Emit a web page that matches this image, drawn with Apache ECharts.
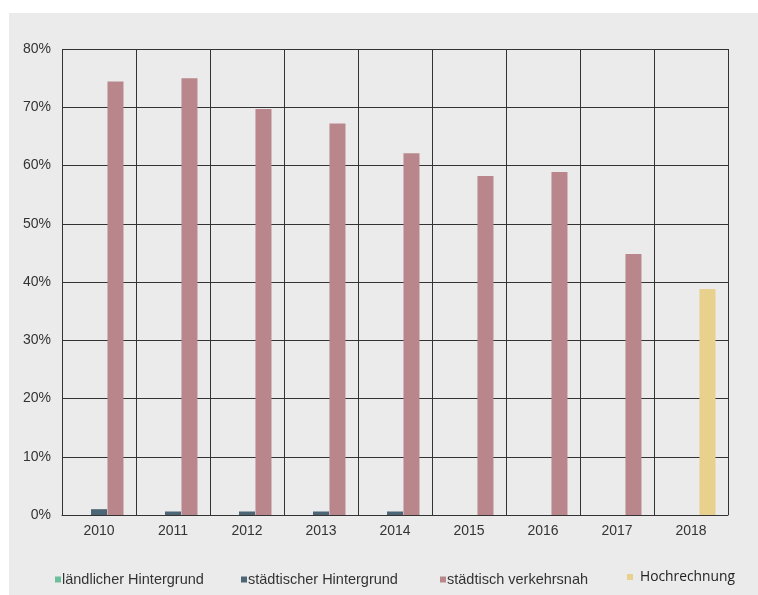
<!DOCTYPE html>
<html><head><meta charset="utf-8">
<script src="https://cdn.jsdelivr.net/npm/echarts@6/dist/echarts.min.js"></script>
<style>html,body{margin:0;padding:0;background:#fff}#c{width:758px;height:595px}</style>
</head><body><div id="c"></div>
<script>
const years = ['2010','2011','2012','2013','2014','2015','2016','2017','2018'];
const laendlich = [null,null,null,null,null,null,null,null,null];
const staedtischHG = [1.0,0.6,0.6,0.6,0.6,null,null,null,null];
const verkehrsnah = [74.4,75.0,69.7,67.2,62.1,58.2,58.9,44.8,null];
const hochrechnung = [null,null,null,null,null,null,null,null,38.8];
const yTicks = [0,10,20,30,40,50,60,70,80];

const chart = echarts.init(document.getElementById('c'), null, {renderer:'canvas'});
const lblFont = {fontFamily:'Liberation Sans', fontSize:14, color:'#333'};
function lg(name, left, font, pad){
  return {data:[name], left:left, top:567, itemWidth:6, itemHeight:6, itemGap:0, icon:'rect',
    textStyle:Object.assign({padding:[0,0,0,pad]}, font), selectedMode:false};
}
const legFont = {fontFamily:'Liberation Sans', fontSize:14.5, color:'#333'};
chart.setOption({
  backgroundColor:'#ffffff',
  graphic:[{type:'rect', z:-10, shape:{x:9,y:13,width:749,height:582}, style:{fill:'#ebebeb'}}],
  animation:false,
  legend:[
    lg('ländlicher Hintergrund', 50, legFont, -4),
    lg('städtischer Hintergrund', 236, legFont, -4),
    lg('städtisch verkehrsnah', 435, legFont, -4),
    Object.assign(lg('Hochrechnung', 622, {fontFamily:'Open Sans', fontSize:13.8, color:'#222'}, 2), {top:565})
  ],
  grid:{left:62, right:30, top:49, bottom:80},
  xAxis:{type:'category', data:years, boundaryGap:true,
    axisLine:{show:true, lineStyle:{color:'#333', width:1}},
    axisTick:{show:false},
    axisLabel:Object.assign({margin:9}, lblFont),
    splitLine:{show:true, lineStyle:{color:'#333', width:1}}},
  yAxis:{type:'value', min:0, max:80, interval:10,
    axisLine:{show:false}, axisTick:{show:false},
    axisLabel:Object.assign({margin:11, formatter:v=>v+'%'}, lblFont),
    splitLine:{show:true, lineStyle:{color:'#333', width:1}}},
  series:[
    {name:'ländlicher Hintergrund', type:'bar', data:laendlich, barWidth:16, barGap:'3%', itemStyle:{color:'#6cbf9c'}},
    {name:'städtischer Hintergrund', type:'bar', data:staedtischHG, barWidth:16, barGap:'3%', itemStyle:{color:'#4d6675'}},
    {name:'städtisch verkehrsnah', type:'bar', stack:'v', data:verkehrsnah, barWidth:16, barGap:'3%', itemStyle:{color:'#b9878b'}},
    {name:'Hochrechnung', type:'bar', stack:'v', data:hochrechnung, barWidth:16, barGap:'3%', itemStyle:{color:'#e8d08d'}}
  ]
});
</script></body></html>
